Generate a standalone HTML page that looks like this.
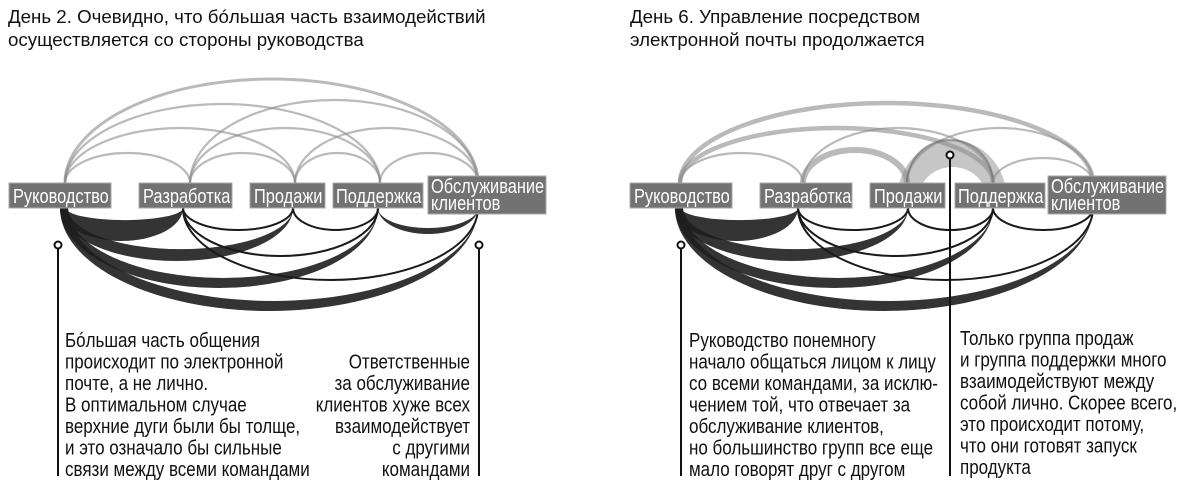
<!DOCTYPE html>
<html><head><meta charset="utf-8"><style>
body{margin:0;background:#fff;}
svg{display:block}
text{font-family:"Liberation Sans Narrow","Liberation Sans",sans-serif;}
.t{font-size:20px;fill:#111}
.h{font-size:18.7px;fill:#111}
.b{font-size:20.5px;fill:#fff}
</style></head><body>
<svg width="1198" height="496" viewBox="0 0 1198 496" xmlns="http://www.w3.org/2000/svg">
<!-- titles -->
<g transform="translate(8,0)">
<text class="h" x="0" y="23">День 2. Очевидно, что бóльшая часть взаимодействий</text>
<text class="h" x="0" y="46">осуществляется со стороны руководства</text>
</g>
<g transform="translate(630,0)">
<text class="h" x="0" y="23">День 6. Управление посредством</text>
<text class="h" x="0" y="46">электронной почты продолжается</text>
</g>

<!-- LEFT top arcs -->
<g fill="none" stroke="rgba(140,140,140,0.6)" stroke-width="2.2">
<path d="M65 183 A62.5 30 0 0 1 190 183"/>
<path d="M65 183 A115 55 0 0 1 295 183"/>
<path d="M65 183 A157.5 79 0 0 1 380 183"/>
<path d="M65 183 A206.5 104 0 0 1 478 183" stroke-width="3"/>
<path d="M190 183 A52.5 30 0 0 1 295 183"/>
<path d="M190 183 A95 55 0 0 1 380 183"/>
<path d="M190 183 A144 83 0 0 1 478 183"/>
<path d="M295 183 A42.5 30 0 0 1 380 183"/>
<path d="M295 183 A91.5 55 0 0 1 478 183"/>
<path d="M380 183 A49 30 0 0 1 478 183"/>
</g>
<!-- LEFT bottom arcs -->
<g fill="rgba(30,30,30,0.9)">
<path d="M60 208 A61.5 33 0 0 0 183 208 A58 12 0 0 1 66 208Z"/>
<path d="M60 208 A116.5 53 0 0 0 293 208 A112 41 0 0 1 68 208Z"/>
<path d="M60 208 A159 80 0 0 0 378 208 A155 70 0 0 1 68 208Z"/>
<path d="M60 208 A209 103 0 0 0 478 208 A205 93 0 0 1 68 208Z"/>
<path d="M378 208 A50 26 0 0 0 478 208 A50 20 0 0 1 378 208Z"/>
</g>
<g fill="none" stroke="#1a1a1a" stroke-width="2">
<path d="M183 208 A55 22 0 0 0 293 208"/>
<path d="M183 208 A97.5 48 0 0 0 378 208"/>
<path d="M183 208 A147.5 72 0 0 0 478 208"/>
<path d="M293 208 A42.5 22 0 0 0 378 208"/>
</g>

<!-- RIGHT top arcs -->
<path d="M897 200 A55 60 0 0 1 1007 200 L987 200 A34.5 33 0 0 0 918 200Z" fill="#c6c6c6"/>
<g fill="none" stroke="rgba(140,140,140,0.6)" stroke-width="2.2">
<path d="M680 183 A61.5 30 0 0 1 803 183"/>
<path d="M680 183 A156.5 55 0 0 1 993 183" stroke-width="4.5"/>
<path d="M680 183 A206.5 80 0 0 1 1093 183" stroke-width="4.5"/>
<path d="M803 183 A52 33 0 0 1 907 183" stroke-width="6"/>
<path d="M803 183 A95 55 0 0 1 993 183"/>
<path d="M907 183 A93 55 0 0 1 1093 183"/>
<path d="M907 183 A43 43 0 0 1 993 183" stroke="rgba(110,110,110,0.6)"/>
<path d="M993 183 A50 25 0 0 1 1093 183"/>
</g>
<!-- RIGHT bottom arcs -->
<g fill="rgba(30,30,30,0.9)">
<path d="M675 208 A61.5 33 0 0 0 798 208 A58 12 0 0 1 681 208Z"/>
<path d="M675 208 A116.5 53 0 0 0 908 208 A112 41 0 0 1 683 208Z"/>
<path d="M675 208 A159 80 0 0 0 993 208 A155 70 0 0 1 683 208Z"/>
<path d="M675 208 A209 103 0 0 0 1093 208 A205 93 0 0 1 683 208Z"/>
</g>
<g fill="none" stroke="#1a1a1a" stroke-width="2">
<path d="M798 208 A55 22 0 0 0 908 208"/>
<path d="M798 208 A97.5 48 0 0 0 993 208"/>
<path d="M798 208 A147.5 72 0 0 0 1093 208"/>
<path d="M908 208 A42.5 22 0 0 0 993 208"/>
<path d="M993 208 A50 22 0 0 0 1093 208"/>
</g>

<!-- boxes -->
<g fill="#727272" stroke="#a8a8a8" stroke-width="1">
<rect x="9" y="183" width="102" height="25"/>
<rect x="139" y="183" width="93" height="25"/>
<rect x="250" y="183" width="75" height="25"/>
<rect x="333" y="183" width="90" height="25"/>
<rect x="428" y="176" width="118" height="38"/>
<rect x="630" y="183" width="102" height="25"/>
<rect x="760" y="183" width="92" height="25"/>
<rect x="870" y="183" width="75" height="25"/>
<rect x="955" y="183" width="90" height="25"/>
<rect x="1048" y="176" width="118" height="38"/>
</g>
<g transform="translate(13,0) scale(0.8,1)"><text class="b" x="0" y="203">Руководство</text></g>
<g transform="translate(143,0) scale(0.8,1)"><text class="b" x="0" y="203">Разработка</text></g>
<g transform="translate(254,0) scale(0.8,1)"><text class="b" x="0" y="203">Продажи</text></g>
<g transform="translate(336,0) scale(0.8,1)"><text class="b" x="0" y="203">Поддержка</text></g>
<g transform="translate(431,0) scale(0.8,1)"><text class="b" x="0" y="193">Обслуживание</text><text class="b" x="0" y="210">клиентов</text></g>
<g transform="translate(634,0) scale(0.8,1)"><text class="b" x="0" y="203">Руководство</text></g>
<g transform="translate(764,0) scale(0.8,1)"><text class="b" x="0" y="203">Разработка</text></g>
<g transform="translate(874,0) scale(0.8,1)"><text class="b" x="0" y="203">Продажи</text></g>
<g transform="translate(958,0) scale(0.8,1)"><text class="b" x="0" y="203">Поддержка</text></g>
<g transform="translate(1051,0) scale(0.8,1)"><text class="b" x="0" y="193">Обслуживание</text><text class="b" x="0" y="210">клиентов</text></g>

<!-- callout lines -->
<g stroke="#111" stroke-width="2" fill="#fff">
<line x1="58" y1="249" x2="58" y2="476"/>
<line x1="479" y1="249" x2="479" y2="476"/>
<line x1="681" y1="249" x2="681" y2="476"/>
<line x1="950" y1="159" x2="950" y2="476"/>
<circle cx="58" cy="245" r="3.5"/>
<circle cx="479" cy="245" r="3.5"/>
<circle cx="681" cy="245" r="3.5"/>
<circle cx="950" cy="155" r="3.5"/>
</g>

<!-- paragraphs -->
<g transform="translate(65,0) scale(0.85,1)">
<text class="t" x="0" y="347">Бóльшая часть общения</text>
<text class="t" x="0" y="368.5">происходит по электронной</text>
<text class="t" x="0" y="390">почте, а не лично.</text>
<text class="t" x="0" y="411.5">В оптимальном случае</text>
<text class="t" x="0" y="433">верхние дуги были бы толще,</text>
<text class="t" x="0" y="454.5">и это означало бы сильные</text>
<text class="t" x="0" y="476">связи между всеми командами</text>
</g>
<g transform="translate(470,0) scale(0.85,1)" text-anchor="end">
<text class="t" x="0" y="368.5">Ответственные</text>
<text class="t" x="0" y="390">за обслуживание</text>
<text class="t" x="0" y="411.5">клиентов хуже всех</text>
<text class="t" x="0" y="433">взаимодействует</text>
<text class="t" x="0" y="454.5">с другими</text>
<text class="t" x="0" y="476">командами</text>
</g>
<g transform="translate(689,0) scale(0.85,1)">
<text class="t" x="0" y="347">Руководство понемногу</text>
<text class="t" x="0" y="368.5">начало общаться лицом к лицу</text>
<text class="t" x="0" y="390">со всеми командами, за исклю-</text>
<text class="t" x="0" y="411.5">чением той, что отвечает за</text>
<text class="t" x="0" y="433">обслуживание клиентов,</text>
<text class="t" x="0" y="454.5">но большинство групп все еще</text>
<text class="t" x="0" y="476">мало говорят друг с другом</text>
</g>
<g transform="translate(960,0) scale(0.85,1)">
<text class="t" x="0" y="345">Только группа продаж</text>
<text class="t" x="0" y="366.5">и группа поддержки много</text>
<text class="t" x="0" y="388">взаимодействуют между</text>
<text class="t" x="0" y="409.5">собой лично. Скорее всего,</text>
<text class="t" x="0" y="431">это происходит потому,</text>
<text class="t" x="0" y="452.5">что они готовят запуск</text>
<text class="t" x="0" y="474">продукта</text>
</g>
</svg>
</body></html>
